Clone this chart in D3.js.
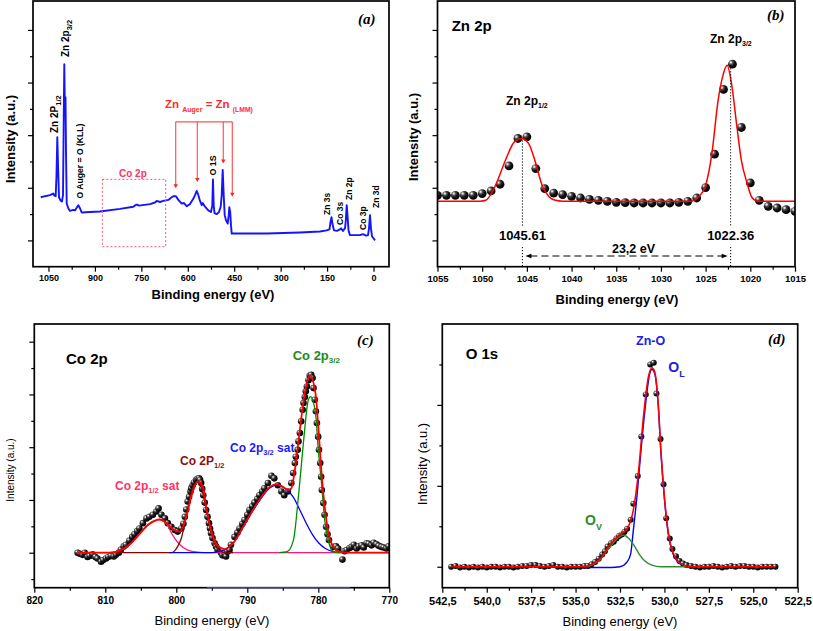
<!DOCTYPE html>
<html><head><meta charset="utf-8">
<script src="https://cdn.jsdelivr.net/npm/d3@7"></script>
<style>body{margin:0;background:#fff}svg{display:block}</style>
</head><body>
<svg id="fig" width="813" height="631"></svg>
<script>
// ---------------- DATA ----------------
// (a) survey spectrum [binding energy eV, intensity a.u.]
const surveyData = [[1075.1,0.82],[1061.2,0.84],[1045.1,0.86],[1034.4,0.89],[1030.5,0.85],[1026.7,0.84],[1024.1,1.24],[1021.5,1.96],[1018.6,1.33],[1016,0.82],[1011.2,0.76],[1006.3,0.74],[1003.1,0.86],[1000.8,2.28],[998.9,3.35],[997.0,2.47],[995.0,2.72],[993.4,1.71],[991.1,0.70],[986,0.61],[980.5,0.56],[969.8,0.58],[964.3,0.57],[957.9,0.63],[953.7,0.67],[948.2,0.61],[942.7,0.53],[915.9,0.54],[883.6,0.55],[818.9,0.60],[776,0.64],[768.9,0.67],[764,0.68],[757.6,0.66],[722,0.69],[705.9,0.72],[700.4,0.75],[689.7,0.73],[679.1,0.75],[662.9,0.77],[651.9,0.82],[646.8,0.84],[638.1,0.84],[630.6,0.77],[619.7,0.70],[612.2,0.71],[603.5,0.65],[592.9,0.69],[582.2,0.79],[576.7,0.86],[571.2,0.94],[567,0.88],[560.5,0.75],[555,0.67],[551.8,0.71],[544.4,0.64],[533.7,0.57],[525,0.54],[520.8,0.67],[518.6,1.16],[516.3,0.67],[513.7,0.52],[506.6,0.50],[499.2,0.54],[493.7,0.64],[490.4,0.86],[487.2,1.34],[484,0.86],[480.7,0.48],[476.5,0.38],[471,0.32],[467.8,0.48],[465.9,0.63],[463,0.54],[460.4,0.29],[458.1,0.13],[447.5,0.13],[345,0.13],[237.5,0.15],[172.9,0.17],[151.3,0.19],[142.2,0.21],[139,0.35],[135.8,0.44],[132.5,0.31],[127.7,0.19],[118,0.18],[108.3,0.21],[105,0.23],[98.6,0.18],[92.1,0.23],[89.5,0.38],[86.6,0.67],[84.1,0.48],[80.8,0.19],[76,0.10],[43.7,0.10],[34,0.12],[24.3,0.09],[17.8,0.10],[14.6,0.23],[11.4,0.48],[8.2,0.23],[5,0.08],[0.1,0.04],[-4.8,0.0]];
const surveyXTicks = [1050,900,750,600,450,300,150,0];
const surveyXMinor = [975,825,675,525,375,225,75];
// Zn Auger arrow targets [eV, arrow-tip intensity]
const augerArrows = [[639,0.99],[569.3,1.11],[485.3,1.46],[456.2,0.83]];

// (b) Zn 2p
const zn2pPoints = [[1055,0.857],[1054,0.857],[1053,0.857],[1052,0.857],[1051,0.857],[1050,0.889],[1049,0.94],[1048,1.067],[1047,1.416],[1046,1.937],[1045,1.968],[1044,1.365],[1043,0.984],[1042,0.90],[1041,0.87],[1040,0.838],[1039,0.806],[1038,0.781],[1037,0.762],[1036,0.743],[1035,0.724],[1034,0.717],[1033,0.711],[1032,0.711],[1031,0.711],[1030,0.711],[1029,0.711],[1028,0.724],[1027,0.743],[1026,0.806],[1025,1.003],[1024,1.638],[1023,2.87],[1022,3.35],[1021,2.146],[1020,1.092],[1019,0.762],[1018,0.648],[1017,0.616],[1016,0.584],[1015,0.552]];
const zn2pFit = [[1055,0.743],[1051,0.743],[1050.2,0.745],[1049.6,0.762],[1048.5,1.048],[1047.4,1.524],[1046.4,1.873],[1045.6,1.937],[1044.8,1.84],[1044.0,1.46],[1043.3,1.048],[1042.5,0.825],[1041.8,0.762],[1041,0.745],[1040,0.743],[1027,0.743],[1026.5,0.75],[1025.8,0.825],[1025.0,1.048],[1024.3,1.65],[1023.6,2.667],[1023.0,3.175],[1022.6,3.33],[1022.1,2.98],[1021.5,2.16],[1021.0,1.52],[1020.4,1.11],[1019.85,0.825],[1019.3,0.75],[1018.8,0.743],[1015,0.743]];
const zn2pXTicks = [1055,1050,1045,1040,1035,1030,1025,1020,1015];
const zn2pXMinor = [1052.5,1047.5,1042.5,1037.5,1032.5,1027.5,1022.5,1017.5];
const zn2pPeaks = [[1045.5,"1045.61",1.9],[1022.2,"1022.36",3.33]];

// (c) Co 2p
const co2pPoints = [[813.9,0],[813.6,-0.02],[813.2,-0.04],[812.9,0.0],[812.5,-0.08],[812.2,-0.06],[811.8,-0.03],[811.4,-0.08],[811.1,-0.11],[810.6,-0.17],[810.3,-0.14],[809.9,-0.11],[809.6,-0.08],[809.2,-0.06],[808.8,-0.07],[808.5,-0.04],[808.1,0.0],[807.8,0.06],[807.4,0.12],[807.1,0.15],[806.6,0.23],[806.2,0.30],[805.9,0.35],[805.5,0.41],[805.2,0.46],[804.7,0.56],[804.2,0.65],[803.8,0.68],[803.3,0.72],[802.8,0.78],[802.5,0.84],[802.1,0.72],[801.6,0.65],[801.2,0.56],[800.7,0.49],[800.2,0.43],[799.8,0.40],[799.3,0.46],[799.0,0.55],[798.8,0.68],[798.6,0.82],[798.4,0.97],[798.2,1.06],[798.0,1.16],[797.9,1.22],[797.7,1.28],[797.5,1.33],[797.2,1.38],[797.0,1.40],[796.8,1.41],[796.65,1.38],[796.5,1.32],[796.35,1.21],[796.2,1.09],[796.0,0.95],[795.8,0.81],[795.6,0.68],[795.4,0.56],[795.25,0.46],[795.1,0.37],[794.9,0.28],[794.6,0.18],[794.4,0.12],[794.2,0.06],[793.7,0.0],[793.5,-0.05],[793.2,-0.02],[793.0,-0.07],[792.8,0.02],[792.5,0.05],[792.3,0.15],[791.8,0.30],[791.4,0.38],[791.1,0.46],[790.7,0.55],[790.4,0.62],[790.0,0.72],[789.7,0.81],[789.3,0.88],[789.0,0.95],[788.6,1.02],[788.3,1.09],[787.9,1.16],[787.6,1.22],[787.1,1.32],[786.6,1.46],[786.2,1.41],[785.7,1.28],[785.2,1.16],[784.8,1.09],[784.3,1.16],[783.8,1.32],[783.54,1.51],[783.3,1.70],[783.17,1.82],[782.9,1.95],[782.79,2.11],[782.6,2.27],[782.41,2.49],[782.2,2.71],[782.08,2.84],[781.9,2.95],[781.76,3.06],[781.6,3.15],[781.38,3.27],[781.2,3.36],[781.0,3.37],[780.8,3.31],[780.67,3.12],[780.5,2.9],[780.34,2.68],[780.2,2.46],[780.02,2.20],[779.9,1.95],[779.73,1.70],[779.6,1.44],[779.5,1.19],[779.3,0.94],[779.12,0.72],[778.9,0.49],[778.7,0.35],[778.5,0.24],[777.9,0.11],[777.5,0.12],[777.2,0.08],[776.6,-0.13],[776.3,0.03],[776.0,0.05],[775.6,0.09],[775.3,0.11],[775.0,0.15],[774.6,0.08],[774.3,0.12],[773.9,0.14],[773.6,0.10],[773.2,0.18],[772.9,0.17],[772.5,0.14],[772.2,0.19],[771.8,0.16],[771.5,0.13],[771.1,0.11],[770.8,0.10],[770.4,0.08],[770.1,0.12]];
const co2pEnvelope = [[813.9,0],[809.4,0],[808,0.04],[806.6,0.15],[805.2,0.35],[804,0.53],[802.8,0.62],[802.4,0.63],[801.4,0.57],[800.5,0.45],[799.5,0.40],[798.6,0.68],[797.9,1.06],[797.2,1.32],[796.9,1.35],[796.2,1.22],[795.8,0.87],[795.1,0.43],[794.4,0.18],[793.2,0.07],[792,0.18],[790.6,0.49],[789.2,0.81],[787.8,1.10],[786.8,1.25],[785.9,1.30],[785,1.25],[784.2,1.19],[783.8,1.22],[783.3,1.57],[782.6,2.33],[781.9,3.03],[781.2,3.36],[780.4,3.03],[780,2.39],[779.5,1.44],[778.8,0.56],[777.9,0.11],[777,0.02],[775.5,0],[770,0]];
const co2pSat12 = [[813.9,0],[809.4,0],[808,0.04],[806.6,0.15],[805.2,0.35],[804,0.52],[802.8,0.62],[802.4,0.63],[801.4,0.55],[800.5,0.33],[799.5,0.15],[798.4,0.05],[797,0.01],[795.5,0],[770,0]];
const co2p12 = [[809.4,0],[800.7,0],[800.2,0.04],[799.8,0.12],[799.3,0.27],[798.8,0.55],[798.3,0.9],[797.8,1.18],[797.2,1.32],[796.9,1.34],[796.4,1.2],[795.9,0.9],[795.4,0.55],[794.9,0.28],[794.4,0.11],[793.8,0.03],[793,0],[792,0]];
const co2pSat32 = [[801,0],[795,0],[794,0.02],[793,0.07],[792,0.18],[790.6,0.48],[789.2,0.8],[787.8,1.08],[786.8,1.23],[785.9,1.28],[785,1.24],[784.2,1.16],[783.5,1.05],[782.6,0.81],[781.7,0.56],[780.8,0.34],[779.9,0.18],[779,0.08],[777.9,0.02],[777,0]];
const co2p32 = [[785.5,0],[784.4,0.02],[783.5,0.24],[782.8,1.06],[782.1,2.08],[781.4,2.9],[781.1,2.96],[780.4,2.65],[780,1.95],[779.5,1.25],[779.1,0.62],[778.6,0.24],[778.1,0.05],[777.5,0],[776,0]];
const co2pXTicks = [820,810,800,790,780,770];
const co2pXMinor = [815,805,795,785,775];

// (d) O 1s
const o1sPoints = [[542.0,0.00],[541.75,0.01],[541.5,-0.01],[541.25,0.0],[541.0,-0.01],[540.75,0.0],[540.5,-0.01],[540.25,0.0],[540.0,-0.01],[539.75,0.0],[539.5,0.0],[539.25,-0.01],[539.0,0.0],[538.75,0.0],[538.5,-0.01],[538.25,0.0],[538.0,0.01],[537.75,0.01],[537.5,0.02],[537.25,0.02],[537.0,0.01],[536.75,0.0],[536.5,0.01],[536.25,0.02],[536.0,0.0],[535.75,0.0],[535.5,-0.01],[535.25,0.0],[535.0,0.0],[534.75,0.0],[534.5,0.01],[534.3,0.01],[534.1,0.03],[533.9,0.06],[533.7,0.10],[533.5,0.15],[533.35,0.19],[533.2,0.25],[533.0,0.29],[532.85,0.31],[532.7,0.35],[532.55,0.38],[532.4,0.40],[532.25,0.43],[532.1,0.47],[531.9,0.58],[531.75,0.78],[531.5,1.12],[531.3,1.61],[531.05,2.13],[530.8,2.50],[530.6,2.52],[530.45,2.14],[530.22,1.58],[530.05,1.02],[529.9,0.60],[529.7,0.35],[529.55,0.22],[529.35,0.13],[529.15,0.07],[528.95,0.04],[528.75,0.02],[528.5,0.01],[528.25,0.0],[528.0,-0.01],[527.75,0.0],[527.5,0.0],[527.25,0.01],[527.0,0.0],[526.75,-0.01],[526.5,0.0],[526.25,0.01],[526.0,0.0],[525.75,0.01],[525.5,0.01],[525.25,0.0],[525.0,0.0],[524.75,-0.01],[524.5,0.0],[524.25,0.0],[524.0,0.0],[523.75,0.0]];
const o1sEnvelope = [[542,0],[534.5,0],[534.3,0.01],[533.6,0.10],[533.0,0.29],[532.5,0.40],[532.1,0.47],[531.75,0.70],[531.45,1.19],[531.2,1.81],[530.9,2.35],[530.7,2.46],[530.55,2.41],[530.35,2.02],[530.2,1.44],[530.0,0.86],[529.8,0.45],[529.5,0.16],[529.1,0.04],[528.8,0.01],[528.5,0],[523.8,0]];
const o1sLattice = [[534.5,-0.01],[533.0,-0.01],[532.5,0.0],[532.1,0.06],[531.9,0.16],[531.75,0.45],[531.55,0.86],[531.35,1.36],[531.1,1.93],[530.8,2.41],[530.7,2.44],[530.55,2.39],[530.35,2.0],[530.2,1.42],[530.0,0.84],[529.8,0.43],[529.5,0.15],[529.1,0.03],[528.8,0],[528.5,0]];
const o1sVacancy = [[534.3,0],[533.9,0.04],[533.6,0.09],[533.3,0.18],[533.0,0.26],[532.6,0.36],[532.3,0.39],[532.0,0.35],[531.7,0.26],[531.4,0.15],[531.1,0.07],[530.7,0.02],[530.2,0.0],[528.7,0]];
const o1sXTicks = [542.5,540,537.5,535,532.5,530,527.5,525,522.5];
const o1sXMinor = [541.25,538.75,536.25,533.75,531.25,528.75,526.25,523.75];

// ---------------- DRAWING ----------------
const SANS = '"Liberation Sans", Arial, Helvetica, sans-serif';
const SERIF = '"Liberation Serif", "Times New Roman", serif';
const svg = d3.select('#fig');
const defs = svg.append('defs');
const grad = defs.append('radialGradient').attr('id','ball').attr('cx','32%').attr('cy','30%').attr('r','75%');
[[0,'#ffffff'],[0.1,'#d0d0d0'],[0.28,'#555'],[0.55,'#151515'],[1,'#000']].forEach(s=>grad.append('stop').attr('offset',s[0]).attr('stop-color',s[1]));

function makePanel(o){
  const x = d3.scaleLinear().domain(o.xd).range([o.l,o.r]);
  const y = d3.scaleLinear().domain(o.yd).range([o.b,o.t]);
  const g = svg.append('g');
  defs.append('clipPath').attr('id','clip'+o.name).append('rect')
    .attr('x',o.l).attr('y',o.t).attr('width',o.r-o.l).attr('height',o.b-o.t);
  const plot = g.append('g').attr('clip-path',`url(#clip${o.name})`);
  const over = g.append('g');
  const gx = g.append('g').attr('transform',`translate(0,${o.b})`)
    .call(d3.axisBottom(x).tickValues(o.xMaj).tickSize(5).tickSizeOuter(0).tickPadding(o.xPad).tickFormat(o.xFmt));
  gx.select('.domain').remove();
  gx.selectAll('line').attr('stroke-width',1.2);
  gx.selectAll('text').attr('font-size',o.xfs).attr('font-weight','bold').attr('font-family',SANS).attr('fill','#000');
  const gxm = g.append('g').attr('transform',`translate(0,${o.b})`)
    .call(d3.axisBottom(x).tickValues(o.xMin).tickSize(3).tickSizeOuter(0).tickFormat(''));
  gxm.select('.domain').remove(); gxm.selectAll('line').attr('stroke-width',1.2);
  const gy = g.append('g').attr('transform',`translate(${o.l},0)`)
    .call(d3.axisLeft(y).tickValues(o.yMaj).tickSize(5).tickSizeOuter(0).tickFormat(''));
  gy.select('.domain').remove(); gy.selectAll('line').attr('stroke-width',1.2);
  const gym = g.append('g').attr('transform',`translate(${o.l},0)`)
    .call(d3.axisLeft(y).tickValues(o.yMin).tickSize(3).tickSizeOuter(0).tickFormat(''));
  gym.select('.domain').remove(); gym.selectAll('line').attr('stroke-width',1.2);
  g.append('rect').attr('x',o.l).attr('y',o.t).attr('width',o.r-o.l).attr('height',o.b-o.t)
    .attr('fill','none').attr('stroke','#000').attr('stroke-width',1.7);
  const top = g.append('g');
  g.append('text').attr('x',o.xtX).attr('y',o.xtY).attr('text-anchor','middle')
    .attr('font-family',SANS).attr('font-size',o.xtfs).attr('font-weight',o.tw).text('Binding energy (eV)');
  g.append('text').attr('transform',`translate(${o.ytX},${o.ytY}) rotate(-90)`).attr('text-anchor','middle')
    .attr('font-family',SANS).attr('font-size',o.ytfs).attr('font-weight',o.tw).text('Intensity (a.u.)');
  g.append('text').attr('x',o.tagX).attr('y',o.tagY).attr('font-family',SERIF).attr('font-size',15)
    .attr('font-style','italic').attr('font-weight','bold').text(o.tag);
  return {x,y,g,plot,over,top};
}

function rich(g, x, y, segs, opt){
  opt = opt||{};
  const t = g.append('text').attr('font-family',SANS).attr('font-weight',opt.weight||'bold')
    .attr('fill',opt.fill||'#000').attr('text-anchor',opt.anchor||'start');
  if(opt.rot) t.attr('transform',`translate(${x},${y}) rotate(-90)`); else t.attr('x',x).attr('y',y);
  let prev = 0;
  segs.forEach(s=>{ const off=s[2]||0; t.append('tspan').attr('dy',off-prev).attr('font-size',s[1]).text(s[0]); prev=off; });
  return t;
}
function curve(p, data, color, w, c){
  p.plot.append('path').datum(data).attr('fill','none').attr('stroke',color).attr('stroke-width',w)
    .attr('stroke-linejoin','round')
    .attr('d', d3.line().x(d=>p.x(d[0])).y(d=>p.y(d[1])).curve(c||d3.curveMonotoneX));
}
function balls(p, data, r){
  p.plot.append('g').selectAll('circle').data(data).join('circle')
    .attr('cx',d=>p.x(d[0])).attr('cy',d=>p.y(d[1])).attr('r',r).attr('fill','url(#ball)');
}

// ---------- (a) ----------
const A = makePanel({name:'a', l:33, r:389, t:1, b:266.7, xd:[1100,-50], yd:[-0.5,4.55],
  xMaj:surveyXTicks, xMin:surveyXMinor, yMaj:[0,1,2,3,4], yMin:[0.5,1.5,2.5,3.5],
  xfs:9, xPad:2.6, xFmt:d3.format('d'), tw:'bold',
  xtX:213, xtY:298.5, xtfs:13, ytX:14.5, ytY:139, ytfs:13, tag:'(a)', tagX:358, tagY:24});
curve(A, surveyData, '#1414ff', 1.9, d3.curveLinear);
A.over.append('rect').attr('x',A.x(876)).attr('y',A.y(1.16)).attr('width',A.x(671.3)-A.x(876))
  .attr('height',A.y(-0.12)-A.y(1.16)).attr('fill','none').attr('stroke','#ff5577').attr('stroke-width',1)
  .attr('stroke-dasharray','2,2');
rich(A.over, 119, 177, [['Co 2p',10]], {fill:'#ff3366'});
const brY = A.y(2.254);
const brc = '#ff5555';
A.over.append('line').attr('x1',A.x(augerArrows[0][0])).attr('x2',A.x(augerArrows[3][0])).attr('y1',brY).attr('y2',brY)
  .attr('stroke',brc).attr('stroke-width',1.2);
augerArrows.forEach(a=>{
  const ax=A.x(a[0]), ay=A.y(a[1]);
  A.over.append('line').attr('x1',ax).attr('x2',ax).attr('y1',brY).attr('y2',ay-3).attr('stroke',brc).attr('stroke-width',1.2);
  A.over.append('path').attr('d',`M${ax-2.2},${ay-4}L${ax+2.2},${ay-4}L${ax},${ay}Z`).attr('fill','#ff2222');
});
rich(A.over, 165, 108.3, [['Zn ',11.5],['Auger',7,4],[' = Zn ',11.5,0],['(LMM)',6.8,4]], {fill:'#ff2a2a'});
rich(A.over, 58, 133, [['Zn 2P',10],['1/2',7.5,2.5]], {rot:true});
rich(A.over, 69, 57, [['Zn 2p',10],['3/2',7.5,2.5]], {rot:true});
rich(A.over, 82.5, 198.5, [['O Auger = O (KLL)',8.6]], {rot:true});
rich(A.over, 216, 175.5, [['O 1S',8.8]], {rot:true});
rich(A.over, 330, 215, [['Zn 3s',8.5]], {rot:true});
rich(A.over, 342.5, 225, [['Co 3s',8.5]], {rot:true});
rich(A.over, 352, 200, [['Zn 2p',8.5]], {rot:true});
rich(A.over, 366, 230, [['Co 3p',8.5]], {rot:true});
rich(A.over, 379, 208, [['Zn 3d',8.5]], {rot:true});

// ---------- (b) ----------
const B = makePanel({name:'b', l:437.5, r:795, t:1, b:266.7, xd:[1055,1015], yd:[-0.5,4.55],
  xMaj:zn2pXTicks, xMin:zn2pXMinor, yMaj:[0,1,2,3,4], yMin:[0.5,1.5,2.5,3.5],
  xfs:9.5, xPad:3.2, xFmt:d3.format('d'), tw:'bold',
  xtX:617, xtY:303.5, xtfs:13, ytX:417.5, ytY:137, ytfs:13, tag:'(b)', tagX:767, tagY:19.5});
balls(B, zn2pPoints, 4.4);
curve(B, zn2pFit, '#ff0000', 1.5);
zn2pPeaks.forEach(pk=>{
  const px = B.x(pk[0]);
  [[B.y(pk[2]), 227],[247, 266.7]].forEach(seg=>
    B.over.append('line').attr('x1',px).attr('x2',px).attr('y1',seg[0]).attr('y2',seg[1])
      .attr('stroke','#000').attr('stroke-width',1).attr('stroke-dasharray','1.2,1.8'));
  B.over.append('text').attr('x',px).attr('y',240).attr('text-anchor','middle').attr('font-family',SANS)
    .attr('font-size',13).attr('font-weight','bold').text(pk[1]);
});
{
  const x1 = B.x(zn2pPeaks[0][0])+3, x2 = B.x(zn2pPeaks[1][0])-3, ay = 256;
  B.over.append('line').attr('x1',x1+5).attr('x2',x2-5).attr('y1',ay).attr('y2',ay).attr('stroke','#000')
    .attr('stroke-width',1).attr('stroke-dasharray','7,4');
  B.over.append('path').attr('d',`M${x1},${ay}L${x1+6},${ay-2.2}L${x1+6},${ay+2.2}Z`).attr('fill','#000');
  B.over.append('path').attr('d',`M${x2},${ay}L${x2-6},${ay-2.2}L${x2-6},${ay+2.2}Z`).attr('fill','#000');
  B.over.append('text').attr('x',(x1+x2)/2+7).attr('y',253).attr('text-anchor','middle').attr('font-family',SANS)
    .attr('font-size',12.5).attr('font-weight','bold').text('23,2 eV');
}
rich(B.over, 451.7, 30.5, [['Zn 2p',15]]);
rich(B.over, 710, 42.5, [['Zn 2p',12],['3/2',7,3]]);
rich(B.over, 506, 104.5, [['Zn 2p',12],['1/2',7,3]]);

// ---------- (c) ----------
const C = makePanel({name:'c', l:34.3, r:389.3, t:324, b:587.7, xd:[820,770], yd:[-0.663,4.335],
  xMaj:co2pXTicks, xMin:co2pXMinor, yMaj:[0,1,2,3,4], yMin:[-0.5,0.5,1.5,2.5,3.5],
  xfs:10, xPad:3.8, xFmt:d3.format('d'), tw:'normal',
  xtX:212, xtY:624.5, xtfs:13, ytX:13.6, ytY:470, ytfs:10, tag:'(c)', tagX:357, tagY:345});
balls(C, co2pPoints, 3.3);
curve(C, co2pSat12, '#ff1a75', 1.3);
curve(C, co2p12, '#8b0000', 1.3);
curve(C, co2pSat32, '#0000ff', 1.3);
curve(C, co2p32, '#008c00', 1.3);
curve(C, co2pEnvelope, '#ff0000', 1.8);
C.top.append('line').attr('x1',C.x(795.7)).attr('x2',C.x(775.5)).attr('y1',587.7).attr('y2',587.7)
  .attr('stroke','#3030ff').attr('stroke-width',1.2);
rich(C.over, 66, 364, [['Co 2p',15]]);
rich(C.over, 292.7, 359.5, [['Co 2p',13],['3/2',8,3]], {fill:'#1a8c1a'});
rich(C.over, 230, 451.5, [['Co 2p',12],['3/2',7.5,3],[' sat',12,0]], {fill:'#1a1aff'});
rich(C.over, 180, 464.5, [['Co 2P',12],['1/2',7.5,3]], {fill:'#8b1010'});
rich(C.over, 115, 490, [['Co 2p',12],['1/2',7.5,3],[' sat',12,0]], {fill:'#ff3366'});

// ---------- (d) ----------
const D = makePanel({name:'d', l:442.3, r:797.7, t:324, b:587.7, xd:[542.5,522.5], yd:[-0.259,3.0],
  xMaj:o1sXTicks, xMin:o1sXMinor, yMaj:[0,1,2], yMin:[0.5,1.5,2.5],
  xfs:11, xPad:4.5, xFmt:v=>d3.format('.1f')(v).replace('.',','), tw:'normal',
  xtX:620, xtY:626, xtfs:13, ytX:427.3, ytY:464, ytfs:13, tag:'(d)', tagX:768, tagY:344});
balls(D, o1sPoints, 3);
curve(D, o1sLattice, '#0000ff', 1.4);
curve(D, o1sVacancy, '#2e8b2e', 1.4);
curve(D, o1sEnvelope, '#ff0000', 1.6);
rich(D.over, 465.7, 359, [['O 1s',15]]);
rich(D.over, 636, 345, [['Zn-O',12.5]], {fill:'#2020e0'});
rich(D.over, 668.3, 371.5, [['O',14],['L',9,5]], {fill:'#2020e0'});
rich(D.over, 585, 525, [['O',14],['V',9,5]], {fill:'#2e8b2e'});
</script>
</body></html>
